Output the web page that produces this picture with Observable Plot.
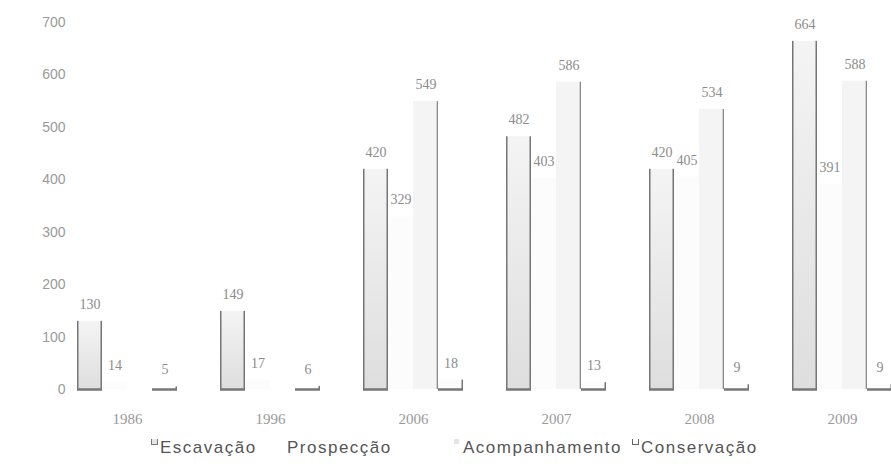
<!DOCTYPE html>
<html>
<head>
<meta charset="utf-8">
<script src="https://cdn.jsdelivr.net/npm/d3@7"></script>
<script src="https://cdn.jsdelivr.net/npm/@observablehq/plot@0.6"></script>
<style>
  html, body { margin: 0; padding: 0; background: white; overflow: hidden; }
  #chart svg { display: block; overflow: hidden; }
  #legend { position: relative; width: 891px; height: 32px; font-family: "Liberation Sans", Arial, sans-serif; font-size: 17px; letter-spacing: 1.5px; color: #555; }
  #legend .item { position: absolute; top: 6px; line-height: 20px; white-space: nowrap; }
  #legend .sw { position: absolute; top: 7px; width: 5px; height: 5px; box-sizing: content-box; }
</style>
</head>
<body>
<svg width="0" height="0" style="position:absolute">
  <defs>
    <linearGradient id="gEsc" x1="0" y1="0" x2="0" y2="1">
      <stop offset="0" stop-color="#f4f4f4"/>
      <stop offset="1" stop-color="#dedede"/>
    </linearGradient>
  </defs>
</svg>
<div id="chart"></div>
<div id="legend"></div>
<script>
const years = ["1986", "1996", "2006", "2007", "2008", "2009"];
const series = ["Escavação", "Prospecção", "Acompanhamento", "Conservação"];
const escavacao = [130, 149, 420, 482, 420, 664];
const prospeccao = [14, 17, 329, 403, 405, 391];
const acompanhamento = [null, null, 549, 586, 534, 588];
const conservacao = [5, 6, 18, 13, 9, 9];
const yTicks = [0, 100, 200, 300, 400, 500, 600, 700];

const valuesBySeries = [escavacao, prospeccao, acompanhamento, conservacao];
const data = [];
years.forEach((year, i) => {
  series.forEach((s, j) => {
    const v = valuesBySeries[j][i];
    if (v != null) data.push({year, series: s, value: v});
  });
});

const W = 891, H = 432, ML = 48, MR = -30, MT = 22, MB = 43;
const PI = 0.289, PO = 0.188;
const step = (W - MR - ML) / (years.length - PI + 2 * PO);
const bw = step * (1 - PI) / series.length;

const fills = {
  "Escavação": "url(#gEsc)",
  "Prospecção": "#fcfcfc",
  "Acompanhamento": "#f4f4f4",
  "Conservação": "#fdfdfd"
};
const edge = "#767676";
const only = (...names) => data.filter(d => names.includes(d.series));

const chart = Plot.plot({
  width: W, height: H,
  marginLeft: ML, marginRight: MR, marginTop: MT, marginBottom: MB,
  style: {background: "white", overflow: "hidden"},
  fx: {domain: years, paddingInner: PI, paddingOuter: PO},
  x: {domain: series, paddingInner: 0, paddingOuter: 0, axis: null},
  y: {domain: [0, 700]},
  marks: [
    Plot.barY(data, {fx: "year", x: "series", y: "value", fill: d => fills[d.series]}),
    // left edge of Escavação
    Plot.barY(only("Escavação"), {fx: "year", x: "series", y: "value", fill: edge, insetRight: bw - 2}),
    // right edges
    Plot.barY(only("Escavação", "Conservação"), {fx: "year", x: "series", y: "value", fill: edge, insetLeft: bw - 2}),
    Plot.barY(only("Acompanhamento"), {fx: "year", x: "series", y: "value", fill: "#8a8a8a", insetLeft: bw - 1.8}),
    // bottom edges
    Plot.tickY(only("Escavação", "Conservação"), {fx: "year", x: "series", y: () => 0, stroke: edge, strokeWidth: 2.5}),
    Plot.text(data, {fx: "year", x: "series", y: "value", text: d => String(d.value), dy: -17, lineAnchor: "middle",
      fill: "#8c8c8c", fontSize: 14, fontFamily: "Liberation Serif, serif", style: "letter-spacing:1.2px"}),
    Plot.axisY({ticks: yTicks, tickSize: 0, tickPadding: 11, label: null, fill: "#9a9a9a", fontSize: 14,
      fontFamily: "Liberation Sans, Arial, sans-serif"}),
    Plot.axisFx({anchor: "bottom", tickSize: 0, tickPadding: 24, label: null, fill: "#9a9a9a", fontSize: 15,
      fontFamily: "Liberation Serif, serif"})
  ]
});
document.getElementById("chart").appendChild(chart);

// legend
const legendItems = [
  {name: series[0], sw: 151, text: 160, swStyle: "border:1.5px solid #777;border-top:none;background:#e6e6e6"},
  {name: series[1], sw: null, text: 287},
  {name: series[2], sw: 454, text: 463, swStyle: "background:#e4e4e4"},
  {name: series[3], sw: 632, text: 641, swStyle: "border:1.5px solid #666;border-top:none;background:#fff"}
];
const legend = document.getElementById("legend");
legendItems.forEach(it => {
  if (it.sw != null) {
    const s = document.createElement("span");
    s.className = "sw";
    s.style.cssText = it.swStyle;
    s.style.left = it.sw + "px";
    legend.appendChild(s);
  }
  const t = document.createElement("span");
  t.className = "item";
  t.style.left = it.text + "px";
  t.textContent = it.name;
  legend.appendChild(t);
});
</script>
</body>
</html>
